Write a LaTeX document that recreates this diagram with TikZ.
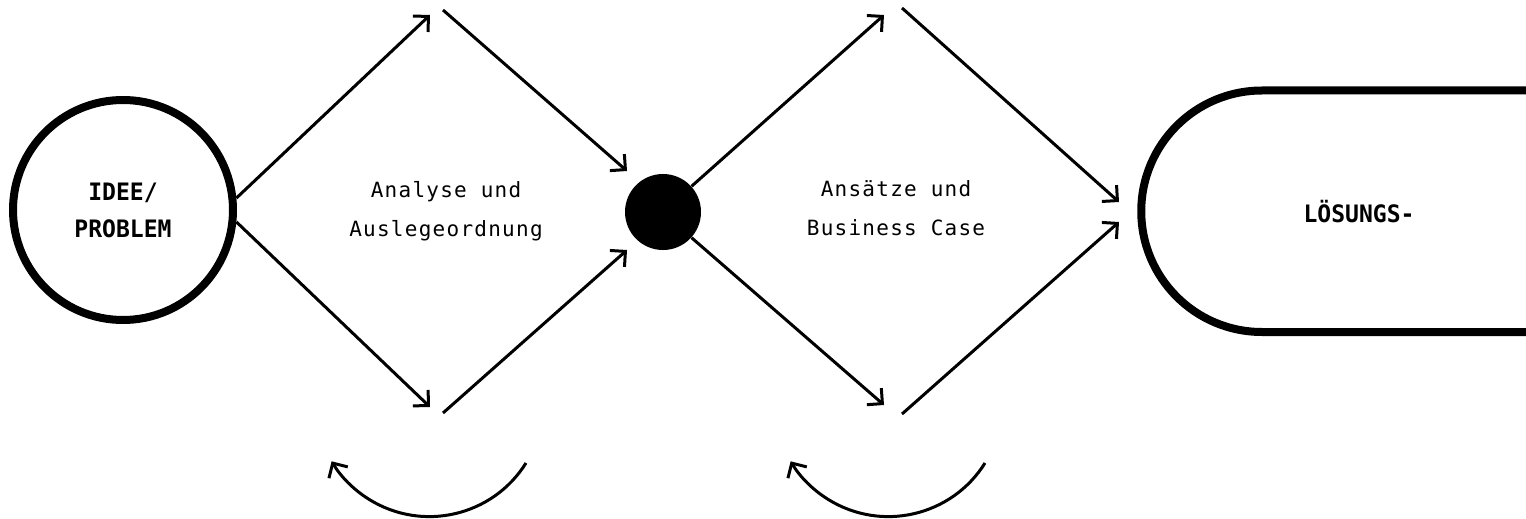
\documentclass[tikz,border=0pt]{standalone}
\usepackage{fontspec}
\usetikzlibrary{arrows.meta}
\newfontfamily\regmono[LetterSpace=6]{DejaVu Sans Mono}
\newfontfamily\boldmono[FakeStretch=0.96]{DejaVu Sans Mono Bold}
\tikzset{
  conn/.style={line width=1.5pt, -{Straight Barb[length=5.5pt,width=11pt,line width=1.5pt]}},
  curvearr/.style={line width=1.5pt, -{Straight Barb[length=5.5pt,width=11pt,line width=1.5pt]}},
  bigring/.style={circle, draw, line width=4pt, minimum size=110pt, inner sep=0pt,
    font=\boldmono\fontsize{12pt}{18.5pt}\selectfont, align=center},
  blackdot/.style={circle, fill=black, minimum size=38pt, inner sep=0pt},
  phaselabel/.style={font=\regmono\fontsize{10.5pt}{19.5pt}\selectfont, align=center, inner sep=0pt},
  boldlabel/.style={font=\boldmono\fontsize{12pt}{18.5pt}\selectfont, inner sep=0pt},
  pill/.style={line width=4pt}
}
\begin{document}
\begin{tikzpicture}[x=0.5pt,y=-0.5pt]
\useasboundingbox (0,0) rectangle (1526,519);
\clip (0,0) rectangle (1526,519);
\fill[white] (0,0) rectangle (1526,519);

% nodes
\node[bigring] (idee) at (123,210) {IDEE/\\PROBLEM};
\node[blackdot] (dot) at (663,212) {};
\node[phaselabel, anchor=base] (lab1) at (446,236) {Analyse und\\Auslegeordnung};
\node[phaselabel, anchor=base] (lab2) at (896,235) {Ansätze und\\Business Case};
\node[boldlabel] (loes) at (1359,212) {LÖSUNGS-};

% solution pill (open to the right)
\draw[pill] (1560,90.5) -- (1262,90.5) arc[start angle=90, end angle=270, radius=60.375pt] -- (1560,332);

% free coordinates
\coordinate (t1) at (430,15);
\coordinate (s2) at (443,10);
\coordinate (t2) at (627,171);
\coordinate (t3) at (430,407);
\coordinate (s4) at (443,413);
\coordinate (t4) at (627,250);
\coordinate (u1) at (884,15);
\coordinate (v2) at (902,8);
\coordinate (u2) at (1119,202);
\coordinate (u3) at (884,405);
\coordinate (v4) at (902,414);
\coordinate (u4) at (1119,222);
\coordinate (c1) at (526,463);
\coordinate (c2) at (985,463);

% first diamond
\draw[conn] (idee.6) -- (t1);
\draw[conn] (s2) -- (t2);
\draw[conn] (idee.-6) -- (t3);
\draw[conn] (s4) -- (t4);

% second diamond
\draw[conn] (dot.42) -- (u1);
\draw[conn] (v2) -- (u2);
\draw[conn] (dot.-42) -- (u3);
\draw[conn] (v4) -- (u4);

% loop arrows
\draw[curvearr] (c1) arc[start angle=-32, end angle=-149, radius=57pt];
\draw[curvearr] (c2) arc[start angle=-32, end angle=-149, radius=57pt];
\end{tikzpicture}
\end{document}
